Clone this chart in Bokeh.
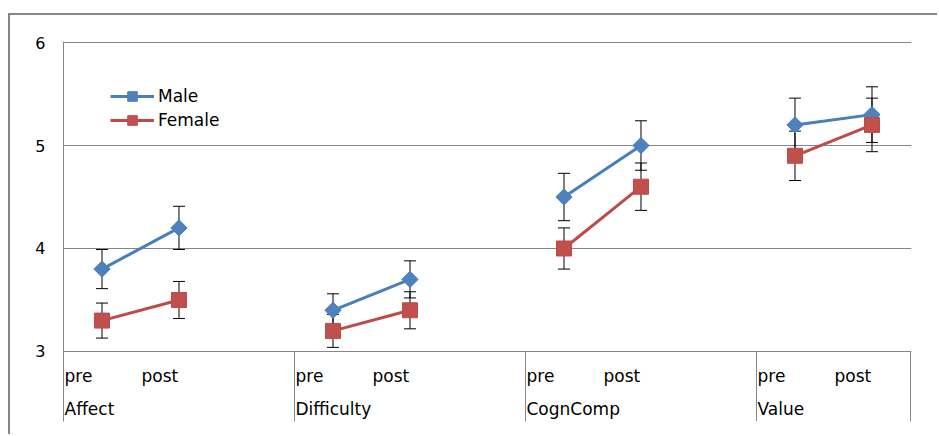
import numpy as np
from bokeh.plotting import figure
from bokeh.models import Range1d, FixedTicker, Legend, LegendItem
from bokeh.core.properties import value
from bokeh.embed import file_html
from bokeh.resources import INLINE

# ---- data ----
groups = ["Affect", "Difficulty", "CognComp", "Value"]
phases = ["pre", "post"]
male_mean = [3.8, 4.2, 3.4, 3.7, 4.5, 5.0, 5.2, 5.3]
male_err = [0.19, 0.21, 0.16, 0.18, 0.23, 0.24, 0.26, 0.27]
female_mean = [3.3, 3.5, 3.2, 3.4, 4.0, 4.6, 4.9, 5.2]
female_err = [0.17, 0.18, 0.16, 0.18, 0.20, 0.23, 0.24, 0.26]
y_ticks = [3, 4, 5, 6]

FONT = "DejaVu Sans"
GRID = "#868686"
SLOTS = len(phases) + 1                      # pre, post, empty slot
n_slots = len(groups) * SLOTS - 1
xs = [g * SLOTS + k for g in range(len(groups)) for k in range(len(phases))]

p = figure(width=929, height=421, output_backend="svg", toolbar_location=None,
           x_axis_location=None, title=None,
           x_range=Range1d(-0.5, n_slots - 0.5 + 0.013),
           y_range=Range1d(2.32, 6.01),
           min_border_left=53, min_border_right=28, min_border_top=26, min_border_bottom=15)
p.styles = {"border-top": "2px solid #868686", "border-left": "2px solid #868686",
            "margin": "13px 0px 0px 8px"}
p.outline_line_color = None
p.background_fill_color = "white"
p.border_fill_color = "white"
p.xgrid.visible = False
p.ygrid.ticker = FixedTicker(ticks=y_ticks)
p.ygrid.grid_line_color = GRID
p.ygrid.grid_line_width = 1

ya = p.yaxis[0]
ya.ticker = FixedTicker(ticks=y_ticks)
ya.major_tick_line_color = None
ya.minor_tick_line_color = None
ya.major_tick_out = 0
ya.major_tick_in = 0
ya.axis_line_color = GRID
ya.major_label_standoff = 18
ya.major_label_text_font = FONT
ya.major_label_text_font_size = "16px"
ya.major_label_text_color = "black"

# category-axis separators and labels
bounds = [g * SLOTS - 0.5 for g in range(1, len(groups))] + [n_slots - 0.5]
p.segment(x0=bounds, x1=bounds, y0=[y_ticks[0]] * len(bounds), y1=[2.32] * len(bounds),
          line_color=GRID, line_width=1)
p.text(x=[x - 0.5 for x in xs], y=[y_ticks[0]] * len(xs), text=phases * len(groups),
       x_offset=1, y_offset=25, text_align="left", text_baseline="middle",
       text_font=value(FONT), text_font_size="17px", text_color="black")
p.text(x=[g * SLOTS - 0.5 for g in range(len(groups))], y=[y_ticks[0]] * len(groups),
       text=groups, x_offset=1, y_offset=58, text_align="left", text_baseline="middle",
       text_font=value(FONT), text_font_size="17px", text_color="black")

# error bars
for mean, err in [(male_mean, male_err), (female_mean, female_err)]:
    lo = [m - e for m, e in zip(mean, err)]
    hi = [m + e for m, e in zip(mean, err)]
    p.segment(x0=xs, x1=xs, y0=lo, y1=hi, line_color="black", line_width=1)
    p.scatter(x=xs + xs, y=lo + hi, marker="dash", size=12, line_color="black", line_width=1)

def group_lines(mean):
    return ([xs[2 * g:2 * g + 2] for g in range(len(groups))],
            [mean[2 * g:2 * g + 2] for g in range(len(groups))])

mx, my = group_lines(male_mean)
fx, fy = group_lines(female_mean)
m_line = p.multi_line(mx, my, line_color="#4A7EBB", line_width=3)
f_line = p.multi_line(fx, fy, line_color="#BE4B48", line_width=3)
m_mark = p.scatter(xs, male_mean, marker="square", angle=np.pi / 4, size=11.5,
                   fill_color="#4F81BD", line_color="#4A7EBB")
f_mark = p.scatter(xs, female_mean, marker="square", size=15,
                   fill_color="#C0504D", line_color="#BE4B48")

legend = Legend(items=[LegendItem(label="Male", renderers=[m_line, m_mark]),
                       LegendItem(label="Female", renderers=[f_line, f_mark])],
                location=(47, 289), padding=0, margin=0, spacing=0,
                glyph_width=44, glyph_height=24, label_height=24, label_standoff=4,
                border_line_color=None, background_fill_alpha=0,
                label_text_font=FONT, label_text_font_size="17px", label_text_color="black")
p.add_layout(legend)

open("out.html", "w").write(file_html(p, INLINE))
